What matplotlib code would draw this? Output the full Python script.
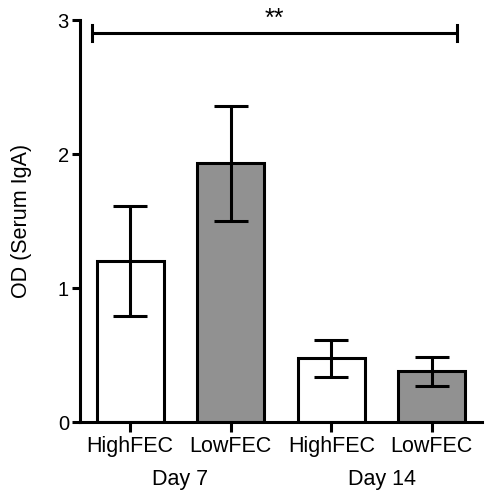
import matplotlib
matplotlib.use("Agg")
import matplotlib.pyplot as plt
import numpy as np

plt.rcParams['font.family'] = ['Liberation Sans', 'DejaVu Sans']

categories = ["HighFEC", "LowFEC", "HighFEC", "LowFEC"]
groups = ["Day 7", "Day 14"]
means = [1.20, 1.93, 0.48, 0.38]
err_low = [0.41, 0.43, 0.14, 0.11]
err_high = [0.41, 0.43, 0.135, 0.11]
colors = ["white", "#919191", "white", "#919191"]
sig_text = "**"
sig_y = 2.90

fig = plt.figure(figsize=(4.87, 4.95), dpi=100)
ax = fig.add_axes([80/487, 1-422.3/495, (482-80)/487, (422.3-20)/495])

x = np.arange(len(means))
lw = 2.2
ax.bar(x, means, width=0.67, color=colors, edgecolor="black", linewidth=lw, zorder=2)
ax.errorbar(x, means, yerr=[err_low, err_high], fmt="none", ecolor="black",
            elinewidth=lw, capsize=12, capthick=lw, zorder=3)

ax.set_xlim(-0.5, 3.5)
ax.set_ylim(0, 3)
ax.set_yticks([0, 1, 2, 3])
ax.set_xticks(x)
ax.set_xticklabels(categories, fontsize=15.5)
ax.tick_params(axis='y', labelsize=14.5, width=lw, length=6, direction='out', pad=2)
ax.tick_params(axis='x', width=lw, length=7, direction='out', pad=3)
for s in ["top", "right"]:
    ax.spines[s].set_visible(False)
for s in ["left", "bottom"]:
    ax.spines[s].set_linewidth(lw)

ax.set_ylabel("OD (Serum IgA)", fontsize=15.5)
ax.yaxis.set_label_coords(-0.12, 0.5)

# group labels
for gi, g in enumerate(groups):
    ax.text(gi*2 + 0.5, -0.43, g, ha='center', va='center', fontsize=15.5,
            transform=ax.transData, clip_on=False)

# significance bracket
x0, x1 = -0.38, 3.25
ax.plot([x0, x1], [sig_y, sig_y], color='black', lw=lw, clip_on=False, solid_capstyle='butt')
ax.plot([x0, x0], [sig_y-0.06, sig_y+0.06], color='black', lw=lw, clip_on=False)
ax.plot([x1, x1], [sig_y-0.06, sig_y+0.06], color='black', lw=lw, clip_on=False)
ax.text((x0+x1)/2, sig_y+0.02, sig_text, ha='center', va='bottom', fontsize=18, clip_on=False)

fig.savefig("out.png", dpi=100)
